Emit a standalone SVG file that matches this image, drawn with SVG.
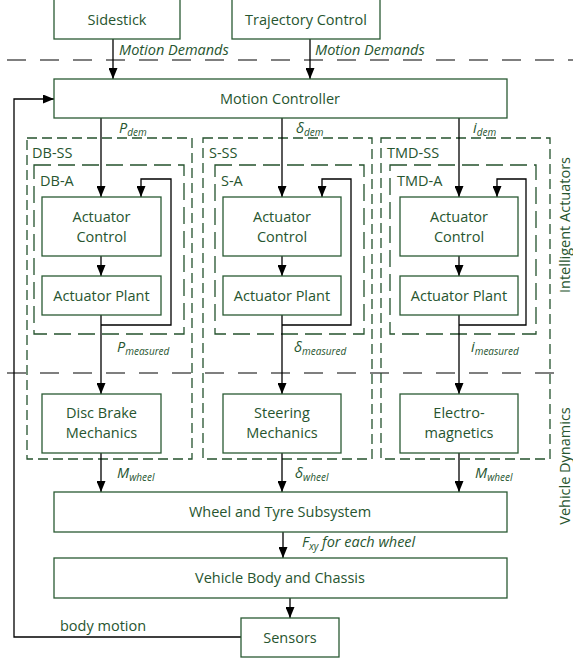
<svg xmlns="http://www.w3.org/2000/svg" width="573" height="661" viewBox="0 0 573 661">
<defs>
<style>
.box{fill:#fff;stroke:#2a5a33;stroke-width:1.3}
.t{font-family:"Open Sans",Lato,sans-serif;font-size:14.5px;fill:#27552f}
.c{text-anchor:middle}
.it{font-style:italic}
.sub{font-size:10px;font-style:italic}
.ob{fill:none;stroke:#24522d;stroke-width:1.3;stroke-dasharray:10 5}
.ib{fill:none;stroke:#24522d;stroke-width:1.3;stroke-dasharray:17 7}
.div{fill:none;stroke:#000;stroke-width:1.2;stroke-dasharray:19 14}
.ln{fill:none;stroke:#000;stroke-width:1.3}
.arr{marker-end:url(#ah)}
</style>
<marker id="ah" viewBox="0 0 11 9" markerWidth="11" markerHeight="9" refX="11" refY="4.5" orient="auto" markerUnits="userSpaceOnUse">
<path d="M0,0 L11,4.5 L0,9 z" fill="#000"/>
</marker>
</defs>
<rect width="573" height="661" fill="#fff"/>

<g id="dividers">
<line class="div" x1="7" y1="60" x2="573" y2="60"/>
<line class="div" x1="7" y1="373" x2="565" y2="373"/>
<text class="t c" x="570" y="225" transform="rotate(-90 570 225)">Intelligent Actuators</text>
<text class="t c" x="570" y="466" transform="rotate(-90 570 466)">Vehicle Dynamics</text>
</g>

<g id="db-ss"><rect class="ob" x="27" y="138" width="165" height="321"/><text class="t" x="32" y="158">DB-SS</text></g>
<g id="s-ss"><rect class="ob" x="203" y="138" width="169" height="321"/><text class="t" x="209" y="158">S-SS</text></g>
<g id="tmd-ss"><rect class="ob" x="381" y="138" width="169" height="321"/><text class="t" x="387" y="158">TMD-SS</text></g>
<g id="db-a"><rect class="ib" x="34" y="165" width="150" height="169"/><text class="t" x="40" y="186">DB-A</text></g>
<g id="s-a"><rect class="ib" x="215" y="165" width="149" height="169"/><text class="t" x="221" y="186">S-A</text></g>
<g id="tmd-a"><rect class="ib" x="390" y="165" width="146" height="169"/><text class="t" x="397" y="186">TMD-A</text></g>

<g id="connectors">
<line class="ln arr" x1="113" y1="39" x2="113" y2="79"/>
<line class="ln arr" x1="310" y1="39" x2="310" y2="79"/>
<line class="ln arr" x1="101" y1="118" x2="101" y2="197"/>
<line class="ln arr" x1="282" y1="118" x2="282" y2="197"/>
<line class="ln arr" x1="459" y1="118" x2="459" y2="197"/>
<line class="ln arr" x1="101" y1="256" x2="101" y2="276"/>
<line class="ln arr" x1="282" y1="256" x2="282" y2="276"/>
<line class="ln arr" x1="459" y1="256" x2="459" y2="276"/>
<line class="ln arr" x1="101" y1="315" x2="101" y2="394"/>
<line class="ln arr" x1="282" y1="315" x2="282" y2="394"/>
<line class="ln arr" x1="459" y1="315" x2="459" y2="394"/>
<polyline class="ln arr" points="101,325 171,325 171,179 141,179 141,197"/>
<polyline class="ln arr" points="282,325 351,325 351,179 322,179 322,197"/>
<polyline class="ln arr" points="459,325 526,325 526,179 497,179 497,197"/>
<line class="ln arr" x1="101" y1="453" x2="101" y2="492"/>
<line class="ln arr" x1="282" y1="453" x2="282" y2="492"/>
<line class="ln arr" x1="459" y1="453" x2="459" y2="492"/>
<line class="ln arr" x1="283" y1="532" x2="283" y2="558"/>
<line class="ln arr" x1="290" y1="598" x2="290" y2="618"/>
<polyline class="ln arr" points="241,637 14,637 14,99 54,99"/>
<text class="t it" x="119" y="55">Motion Demands</text>
<text class="t it" x="315" y="55">Motion Demands</text>
<text class="t" x="119" y="133"><tspan class="it">P</tspan><tspan class="sub" dy="3">dem</tspan></text>
<text class="t" x="296" y="133"><tspan class="it">δ</tspan><tspan class="sub" dy="3">dem</tspan></text>
<text class="t" x="473" y="133"><tspan class="it">i</tspan><tspan class="sub" dy="3">dem</tspan></text>
<text class="t" x="117" y="352"><tspan class="it">P</tspan><tspan class="sub" dy="3">measured</tspan></text>
<text class="t" x="294" y="352"><tspan class="it">δ</tspan><tspan class="sub" dy="3">measured</tspan></text>
<text class="t" x="471" y="352"><tspan class="it">i</tspan><tspan class="sub" dy="3">measured</tspan></text>
<text class="t" x="117" y="478"><tspan class="it">M</tspan><tspan class="sub" dy="3">wheel</tspan></text>
<text class="t" x="295" y="478"><tspan class="it">δ</tspan><tspan class="sub" dy="3">wheel</tspan></text>
<text class="t" x="475" y="478"><tspan class="it">M</tspan><tspan class="sub" dy="3">wheel</tspan></text>
<text class="t" x="302" y="547"><tspan class="it">F</tspan><tspan class="sub" dy="3">xy</tspan><tspan class="it" dy="-3"> for each wheel</tspan></text>
<text class="t" x="60" y="631">body motion</text>
</g>

<g id="sidestick"><rect class="box" x="54" y="-1" width="126" height="40"/><text class="t c" x="117" y="25">Sidestick</text></g>
<g id="trajectory"><rect class="box" x="232" y="-1" width="148" height="40"/><text class="t c" x="306" y="25">Trajectory Control</text></g>
<g id="motion-controller"><rect class="box" x="54" y="79" width="453" height="39"/><text class="t c" x="280" y="104">Motion Controller</text></g>

<g id="db-control"><rect class="box" x="42" y="197" width="119" height="59"/><text class="t c" x="101.5" y="222">Actuator</text><text class="t c" x="101.5" y="242">Control</text></g>
<g id="db-plant"><rect class="box" x="42" y="276" width="119" height="39"/><text class="t c" x="101.5" y="301">Actuator Plant</text></g>
<g id="s-control"><rect class="box" x="223" y="197" width="118" height="59"/><text class="t c" x="282" y="222">Actuator</text><text class="t c" x="282" y="242">Control</text></g>
<g id="s-plant"><rect class="box" x="223" y="276" width="118" height="39"/><text class="t c" x="282" y="301">Actuator Plant</text></g>
<g id="tmd-control"><rect class="box" x="400" y="197" width="118" height="59"/><text class="t c" x="459" y="222">Actuator</text><text class="t c" x="459" y="242">Control</text></g>
<g id="tmd-plant"><rect class="box" x="400" y="276" width="118" height="39"/><text class="t c" x="459" y="301">Actuator Plant</text></g>

<g id="disc-brake"><rect class="box" x="42" y="394" width="119" height="59"/><text class="t c" x="101.5" y="418">Disc Brake</text><text class="t c" x="101.5" y="438">Mechanics</text></g>
<g id="steering"><rect class="box" x="223" y="394" width="118" height="59"/><text class="t c" x="282" y="418">Steering</text><text class="t c" x="282" y="438">Mechanics</text></g>
<g id="electro"><rect class="box" x="400" y="394" width="118" height="59"/><text class="t c" x="459" y="418">Electro-</text><text class="t c" x="459" y="438">magnetics</text></g>

<g id="wheel-tyre"><rect class="box" x="54" y="492" width="453" height="40"/><text class="t c" x="280" y="517">Wheel and Tyre Subsystem</text></g>
<g id="vehicle-body"><rect class="box" x="54" y="558" width="453" height="40"/><text class="t c" x="280" y="583">Vehicle Body and Chassis</text></g>
<g id="sensors"><rect class="box" x="241" y="618" width="98" height="39"/><text class="t c" x="290" y="643">Sensors</text></g>
</svg>
